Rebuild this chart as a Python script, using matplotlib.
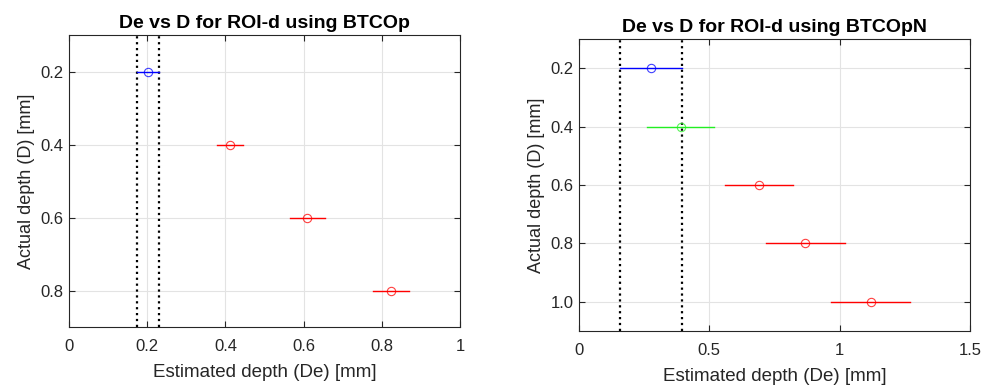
import numpy as np
import matplotlib
matplotlib.use('Agg')
import matplotlib.pyplot as plt

plt.rcParams['font.family'] = ['Liberation Sans', 'DejaVu Sans']

# Left panel: BTCOp
D_p = [0.2, 0.4, 0.6, 0.8]
De_p = [0.201, 0.412, 0.610, 0.823]
lo_p = [0.173, 0.378, 0.565, 0.777]
hi_p = [0.231, 0.444, 0.656, 0.869]
col_p = ['blue', 'red', 'red', 'red']
lims_p = [0.173, 0.231]

# Right panel: BTCOpN
D_n = [0.2, 0.4, 0.6, 0.8, 1.0]
De_n = [0.277, 0.391, 0.691, 0.869, 1.119]
lo_n = [0.159, 0.259, 0.562, 0.717, 0.968]
hi_n = [0.396, 0.519, 0.822, 1.020, 1.270]
col_n = ['blue', '#22ee22', 'red', 'red', 'red']
lims_n = [0.159, 0.396]

fig = plt.figure(figsize=(9.92, 3.87), dpi=100)
ax1 = fig.add_axes([0.0696, 0.155, 0.394, 0.7545])
ax2 = fig.add_axes([0.5837, 0.1447, 0.394, 0.7545])


def draw(ax, D, De, lo, hi, cols, lims, title, xlim, ylim, xticks, xlabels, yticks, ylabels):
    for v in lims:
        ax.axvline(v, color='black', linestyle=':', linewidth=1.6, zorder=3)
    for d, e, a, b, c in zip(D, De, lo, hi, cols):
        ax.plot([a, b], [d, d], color=c, linewidth=1.0, zorder=4)
        ax.plot(e, d, 'o', mfc='none', mec=c, ms=6, mew=0.8, alpha=0.75, zorder=5)
    ax.set_xlim(xlim)
    ax.set_ylim(ylim)
    ax.set_xticks(xticks)
    ax.set_xticklabels(xlabels)
    ax.set_yticks(yticks)
    ax.set_yticklabels(ylabels)
    ax.grid(True, color='#e3e3e3', linewidth=0.8, zorder=0)
    ax.set_axisbelow(True)
    ax.tick_params(direction='in', top=True, right=True, labelsize=12,
                   colors='#262626', length=4)
    ax.tick_params(axis='x', pad=8.5)
    ax.tick_params(axis='y', pad=4)
    for s in ax.spines.values():
        s.set_color('#262626')
        s.set_linewidth(0.8)
    ax.set_title(title, fontsize=14, fontweight='bold', pad=5)
    ax.set_xlabel('Estimated depth (De) [mm]', fontsize=13.5, color='#262626', labelpad=7)
    ax.set_ylabel('Actual depth (D) [mm]', fontsize=13, color='#262626', labelpad=4)


draw(ax1, D_p, De_p, lo_p, hi_p, col_p, lims_p, 'De vs D for ROI-d using BTCOp',
     (0, 1), (0.9, 0.1), [0, 0.2, 0.4, 0.6, 0.8, 1], ['0', '0.2', '0.4', '0.6', '0.8', '1'],
     [0.2, 0.4, 0.6, 0.8], ['0.2', '0.4', '0.6', '0.8'])
draw(ax2, D_n, De_n, lo_n, hi_n, col_n, lims_n, 'De vs D for ROI-d using BTCOpN',
     (0, 1.5), (1.1, 0.1), [0, 0.5, 1, 1.5], ['0', '0.5', '1', '1.5'],
     [0.2, 0.4, 0.6, 0.8, 1.0], ['0.2', '0.4', '0.6', '0.8', '1.0'])

fig.savefig('out.png', dpi=100)
